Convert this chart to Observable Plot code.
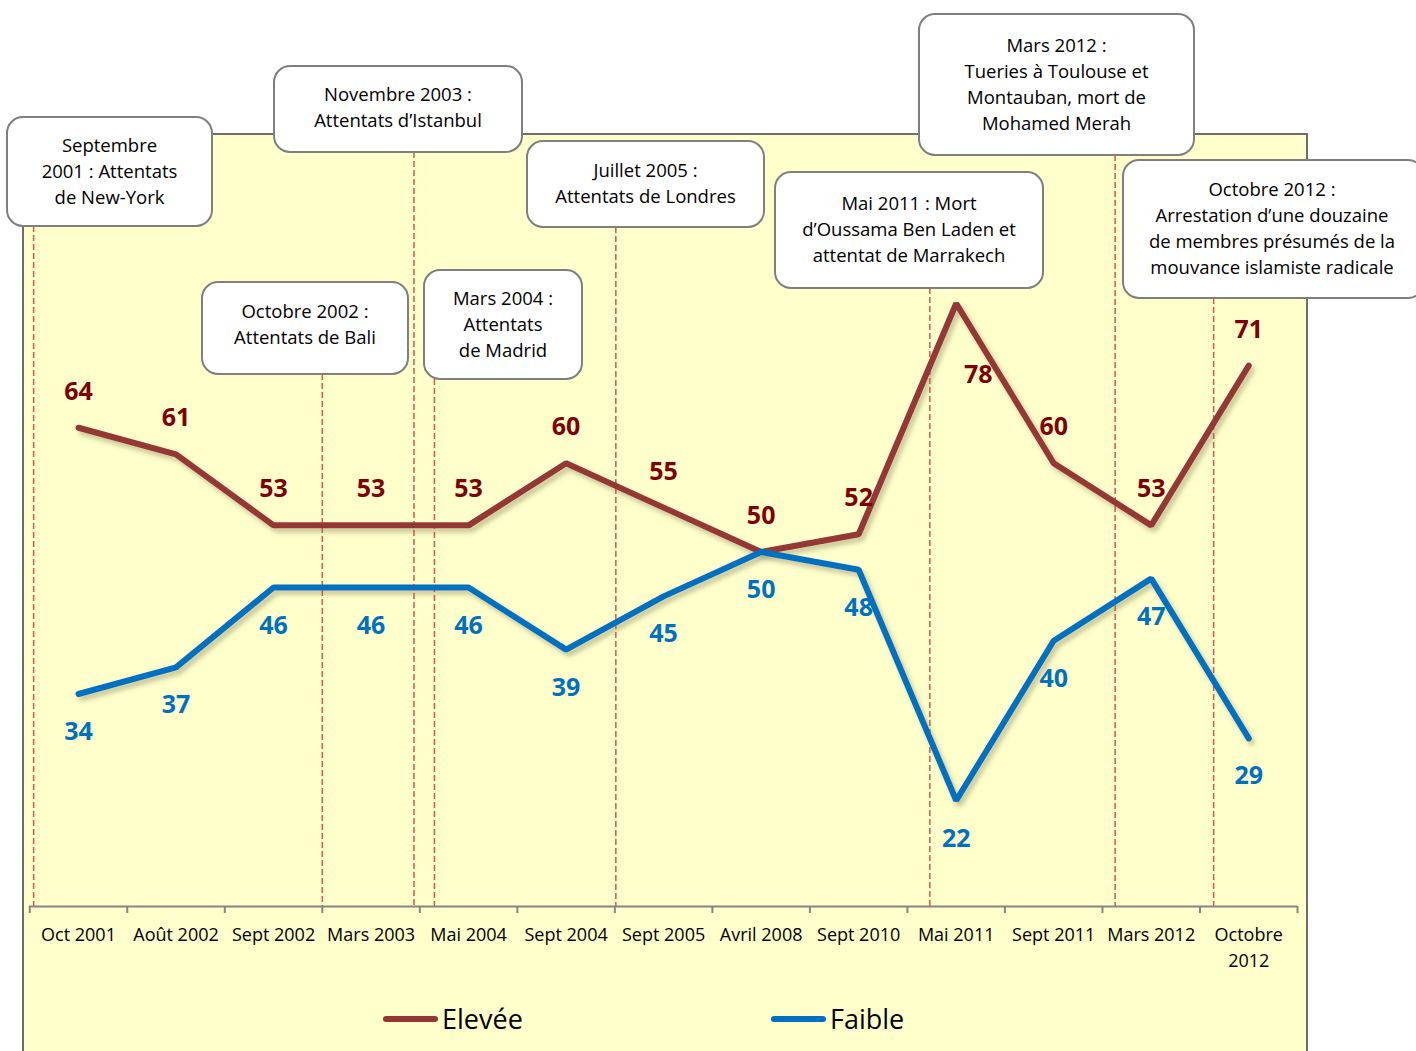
<!DOCTYPE html>
<html>
<head>
<meta charset="utf-8">
<script src="https://cdn.jsdelivr.net/npm/d3@7"></script>
<script src="https://cdn.jsdelivr.net/npm/@observablehq/plot@0.6"></script>
<style>
  html, body { margin: 0; padding: 0; background: #ffffff; }
  body { width: 1416px; font-family: "Open Sans", sans-serif; }
  #legend { position: relative; width: 1416px; height: 61px; }
  #legend .panel { position: absolute; left: 22px; width: 1282px; top: 0; bottom: 0; background: #FFFFCC; border-left: 2px solid #6d6d6d; border-right: 2px solid #6d6d6d; }
  .item { position: absolute; top: 10px; display: flex; align-items: center; font-size: 27px; color: #000; }
  .sw { width: 55px; height: 6px; border-radius: 3px; margin-right: 4px; }
</style>
</head>
<body>
<div id="chart"></div>
<div id="legend"><div class="panel"></div></div>
<script>
// ---------- data ----------
const categories = ["Oct 2001","Août 2002","Sept 2002","Mars 2003","Mai 2004","Sept 2004","Sept 2005","Avril 2008","Sept 2010","Mai 2011","Sept 2011","Mars 2012","Octobre\n2012"];
const eleveeValues = [64,61,53,53,53,60,55,50,52,78,60,53,71];
const faibleValues = [34,37,46,46,46,39,45,50,48,22,40,47,29];
const seriesNames = ["Elevée","Faible"];
// events: text and position on the category axis (fractional index)
const eventTexts = [
  "Septembre\n2001 : Attentats\nde New-York",
  "Octobre 2002 :\nAttentats de Bali",
  "Novembre 2003 :\nAttentats d’Istanbul",
  "Mars 2004 :\nAttentats\nde Madrid",
  "Juillet 2005 :\nAttentats de Londres",
  "Mai 2011 : Mort\nd’Oussama Ben Laden et\nattentat de Marrakech",
  "Mars 2012 :\nTueries à Toulouse et\nMontauban, mort de\nMohamed Merah",
  "Octobre 2012 :\nArrestation d’une douzaine\nde membres présumés de la\nmouvance islamiste radicale"
];
const eventPositions = [-0.46, 2.5, 3.44, 3.65, 5.51, 8.73, 10.63, 11.64];

// ---------- layout ----------
const W = 1416, H = 990;
const mTop = 133, mBottom = 84, mLeft = 29.25, mRight = 119;
const yDomain = [10.06, 97.15];
// callout boxes in pixels [left, top, right, bottom]
const boxLayout = [
  [7,117,212,226],
  [202,282,408,374],
  [274,66,522,152],
  [424,270,582,379],
  [527,141,764,227],
  [775,172,1043,288],
  [919,14,1194,155],
  [1123,160,1424,298]
];
const boxTextShift = [0,-3,-1,0,0,0,0,0];
const colElev = "#953735", colFaib = "#0070C0";
const colElevLbl = "#7F0000", colFaibLbl = "#0070C0";

const yScale = Plot.scale({y: {domain: yDomain, range: [H - mBottom, mTop]}});

const rows = categories.map((c, i) => ({i, c, e: eleveeValues[i], f: faibleValues[i]}));
const events = eventTexts.map((t, k) => ({t, x: eventPositions[k], yTop: yScale.invert(boxLayout[k][3])}));

const plot = Plot.plot({
  width: W, height: H,
  marginTop: mTop, marginBottom: mBottom, marginLeft: mLeft, marginRight: mRight,
  style: {background: "transparent", fontFamily: "Open Sans, sans-serif"},
  x: {domain: [-0.5, 12.5], axis: null},
  y: {domain: yDomain, axis: null},
  marks: [
    Plot.ruleX(events, {x: "x", y1: "yTop", y2: yDomain[0], stroke: "#d9534f", strokeWidth: 1.5, strokeDasharray: "6,3"}),
    Plot.ruleY([yDomain[0]], {stroke: "#868686", strokeWidth: 2}),
    Plot.axisX({ticks: d3.range(-0.5, 13, 1), tickSize: 7, tickFormat: () => "", stroke: "#868686", strokeWidth: 2}),
    Plot.axisX({ticks: d3.range(13), tickSize: 0, tickPadding: 16, tickFormat: i => categories[i], fontSize: 18, fill: "#000", lineHeight: 1.45}),
    Plot.line(rows, {x: "i", y: "e", stroke: colElev, strokeWidth: 6, strokeLinejoin: "miter", strokeLinecap: "round"}),
    Plot.line(rows, {x: "i", y: "f", stroke: colFaib, strokeWidth: 6, strokeLinejoin: "miter", strokeLinecap: "round"}),
    Plot.text(rows.filter(d => d.i !== 9), {x: "i", y: "e", text: "e", dy: -36, fill: colElevLbl, fontSize: 25, fontWeight: "bold"}),
    Plot.text(rows.filter(d => d.i === 9), {x: "i", y: "e", text: "e", dx: 22, dy: 72, fill: colElevLbl, fontSize: 25, fontWeight: "bold"}),
    Plot.text(rows, {x: "i", y: "f", text: "f", dy: 38, fill: colFaibLbl, fontSize: 25, fontWeight: "bold"})
  ]
});

const svg = d3.select(plot);
// defs: shadow
const defs = svg.insert("defs", ":first-child");
const f = defs.append("filter").attr("id", "shadow").attr("x", "-10%").attr("y", "-10%").attr("width", "120%").attr("height", "120%");
f.append("feDropShadow").attr("dx", 3).attr("dy", 4).attr("stdDeviation", 2.5).attr("flood-color", "#7a7a50").attr("flood-opacity", 0.45);
// panel background (behind marks)
const panel = svg.insert("g", "defs + *");
panel.append("rect").attr("x", 22).attr("y", 133).attr("width", 1286).attr("height", H - 133).attr("fill", "#FFFFCC");
panel.append("path").attr("d", `M23,${H}V134H1307V${H}`).attr("fill", "none").attr("stroke", "#6d6d6d").attr("stroke-width", 2);
svg.selectAll('g[aria-label="line"]').attr("filter", "url(#shadow)");

// callout boxes
const boxes = svg.append("g").attr("font-family", "Open Sans, sans-serif").attr("font-size", 18.5);
events.forEach((ev, k) => {
  const [x0, y0, x1, y1] = boxLayout[k];
  boxes.append("rect").attr("x", x0).attr("y", y0).attr("width", x1 - x0).attr("height", y1 - y0)
    .attr("rx", 16).attr("fill", "#fff").attr("stroke", "#7f7f7f").attr("stroke-width", 2);
  const lines = ev.t.split("\n");
  const cx = (x0 + Math.min(x1, 1424)) / 2 - (k === 7 ? 1.5 : 0);
  const cy = (y0 + y1) / 2 + boxTextShift[k];
  const lh = 26;
  const t = boxes.append("text").attr("text-anchor", "middle").attr("fill", "#000");
  lines.forEach((ln, j) => {
    t.append("tspan").attr("x", cx).attr("y", cy + (j - (lines.length - 1) / 2) * lh).attr("dy", "0.35em").text(ln);
  });
});

document.getElementById("chart").appendChild(plot);

// legend
const leg = document.getElementById("legend");
[[seriesNames[0], colElev, 383], [seriesNames[1], colFaib, 771]].forEach(([name, col, left]) => {
  const it = document.createElement("div");
  it.className = "item";
  it.style.left = left + "px";
  it.innerHTML = `<span class="sw" style="background:${col}"></span><span>${name}</span>`;
  leg.appendChild(it);
});
</script>
</body>
</html>
